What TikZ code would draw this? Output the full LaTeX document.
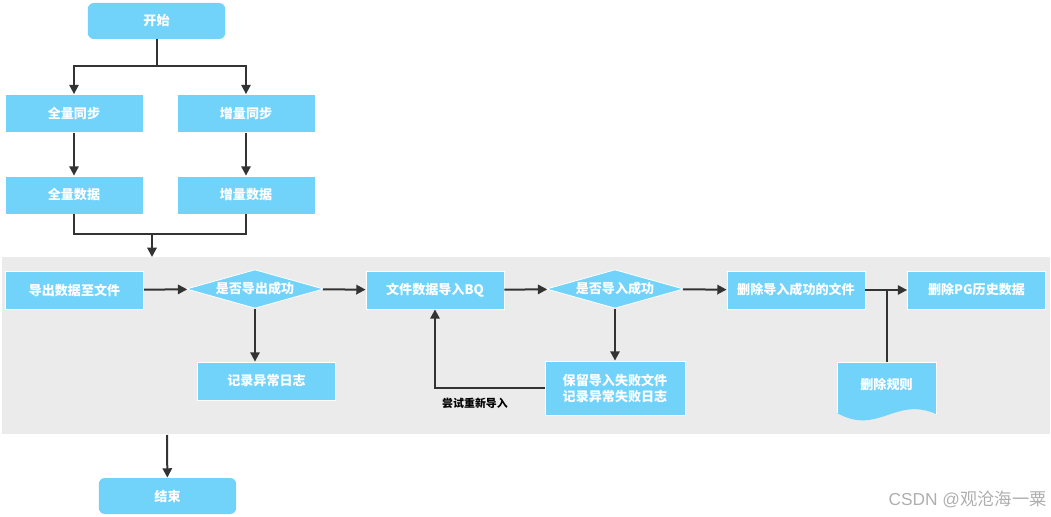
\documentclass[tikz,border=0pt]{standalone}
\usepackage{fontspec}
\setmainfont{Noto Sans CJK SC}
\newfontfamily\markfont{Liberation Sans}
\usetikzlibrary{arrows.meta,shapes.geometric}
\definecolor{boxblue}{RGB}{114,211,250}
\definecolor{bandgray}{RGB}{235,235,235}
\definecolor{linegray}{RGB}{51,51,51}
\definecolor{markgray}{RGB}{175,175,175}
\begin{document}
\begin{tikzpicture}[x=0.75pt,y=-0.75pt,
  box/.style={fill=boxblue, draw=white, line width=0.6pt, text=white,
    font=\bfseries\fontsize{9.8}{12}\selectfont,
    minimum width=103.5pt, minimum height=28.5pt, inner sep=1pt},
  term/.style={box, draw=none, rounded corners=4.5pt,
    minimum width=103pt, minimum height=27pt},
  check/.style={box, diamond, aspect=3.6, minimum width=103pt, minimum height=29pt, inner sep=0pt},
  arr/.style={draw=linegray, line width=1.5pt, -{Triangle[width=7pt,length=7pt]}},
  ln/.style={draw=linegray, line width=1.5pt}]
  \useasboundingbox (0,0) rectangle (1051,517);
  % Gray band
  \fill[bandgray] (2,257) rectangle (1050,434);
  % Sync branches
  \node[term] (start) at (156.5,21) {开始};
  \node[box] (fullsync) at (74,113.5) {全量同步};
  \node[box] (incsync) at (246,113.5) {增量同步};
  \node[box] (fulldata) at (74,195) {全量数据};
  \node[box] (incdata) at (246,195) {增量数据};
  \coordinate (split) at (156.5,66);
  \coordinate (merge) at (152,234);
  \coordinate (bandtop) at (152,257);
  \draw[ln] (start) -- (split);
  \draw[arr] (split) -| (fullsync);
  \draw[arr] (split) -| (incsync);
  \draw[arr] (fullsync) -- (fulldata);
  \draw[arr] (incsync) -- (incdata);
  \draw[ln] (fulldata) |- (merge);
  \draw[ln] (incdata) |- (merge);
  \draw[arr] (merge) -- (bandtop);
  % Main line
  \node[box] (export) at (74.5,290) {导出数据至文件};
  \node[check] (chk1) at (255,289) {是否导出成功};
  \node[box] (log1) at (266.5,381) {记录异常日志};
  \node[box] (bq) at (435,290) {文件数据导入BQ};
  \node[check] (chk2) at (615,289) {是否导入成功};
  \node[box, minimum width=105pt, minimum height=40.5pt, align=center] (keep) at (615,388)
    {保留导入失败文件\\记录异常失败日志};
  \node[box] (delok) at (796,290) {删除导入成功的文件};
  \node[box] (delpg) at (976.5,290) {删除PG历史数据};
  \draw[arr] (export) -- (chk1);
  \draw[arr] (chk1) -- (bq);
  \draw[arr] (bq) -- (chk2);
  \draw[arr] (chk2) -- (delok);
  \draw[arr] (delok) -- (delpg);
  \draw[arr] (chk1.south) -- (chk1.south |- log1.north);
  \draw[arr] (chk2) -- (keep);
  \draw[arr] (keep.west) -| (bq.south);
  \node[font=\bfseries\fontsize{8.2}{10}\selectfont] (retry) at (475,403) {尝试重新导入};
  % Rule document
  \fill[boxblue] (837,362) -- (936,362) -- (936,414)
    .. controls (895,396) and (878,436) .. (837,413) -- cycle;
  \draw[white, line width=0.6pt] (837,413) -- (837,362) -- (936,362) -- (936,414);
  \node[text=white, font=\bfseries\fontsize{9.8}{12}\selectfont,
    minimum width=74pt, minimum height=18pt] (rule) at (886.5,385) {删除规则};
  \coordinate (ruletop) at (886.5,362);
  \draw[ln] (ruletop) -- (ruletop |- delok.east);
  % End
  \coordinate (bandbot) at (167,435);
  \node[term] (end) at (167.5,496) {结束};
  \draw[arr] (bandbot) -- (end);
  % Watermark
  \node[text=markgray, font=\fontsize{13}{15}\selectfont, anchor=east, inner sep=0pt] (mark) at (1047,499) {{\markfont CSDN @}观沧海一粟};
\end{tikzpicture}
\end{document}
